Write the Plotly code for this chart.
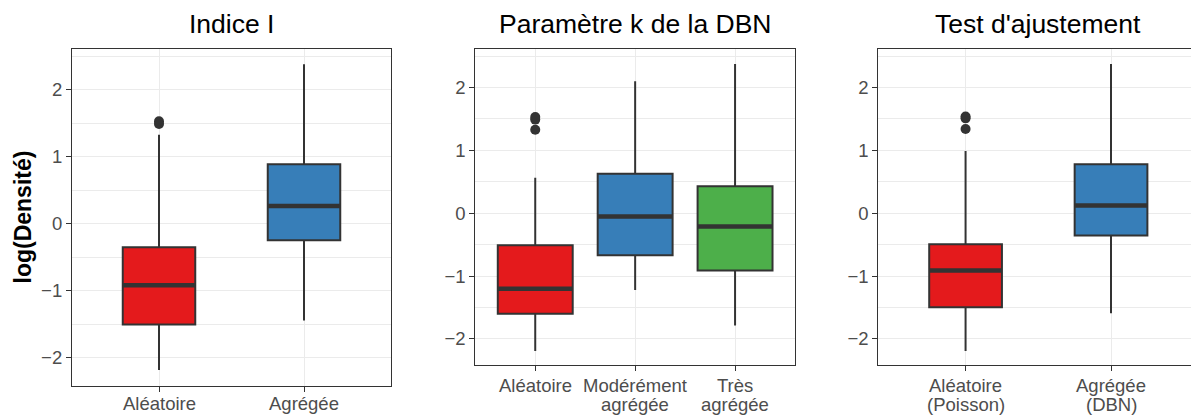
import plotly.graph_objects as go

W, H = 1191, 416

# ---------------- data ----------------
titles = ["Indice I", "Paramètre k de la DBN", "Test d'ajustement"]
y_title = "log(Densité)"

cats_indice = ["Aléatoire", "Agrégée"]
low_indice = [-2.18, -1.44]
q1_indice = [-1.50, -0.245]
med_indice = [-0.915, 0.265]
q3_indice = [-0.35, 0.89]
high_indice = [1.33, 2.38]
out_indice = [[1.49, 1.53], []]

cats_k = ["Aléatoire", "Modérément\nagrégée", "Très\nagrégée"]
low_k = [-2.19, -1.22, -1.785]
q1_k = [-1.60, -0.667, -0.91]
med_k = [-1.20, -0.053, -0.212]
q3_k = [-0.508, 0.629, 0.429]
high_k = [0.565, 2.10, 2.375]
out_k = [[1.33, 1.49, 1.53], [], []]

cats_test = ["Aléatoire\n(Poisson)", "Agrégée\n(DBN)"]
low_test = [-2.19, -1.59]
q1_test = [-1.497, -0.355]
med_test = [-0.91, 0.122]
q3_test = [-0.492, 0.778]
high_test = [0.99, 2.375]
out_test = [[1.34, 1.51, 1.54], []]

y_ticks = [-2, -1, 0, 1, 2]

# ---------------- style ----------------
RED, BLUE, GREEN = "#E41A1C", "#377EB8", "#4DAF4A"
DARK = "#333333"
GRID = "#EBEBEB"
TICK_TXT = "#4D4D4D"
FONT = "Liberation Sans, Arial, Helvetica, sans-serif"
TICK_SIZE = 18.5
TITLE_SIZE = 26.5

panels = [
    dict(title=titles[0], cats=cats_indice, low=low_indice, q1=q1_indice, med=med_indice,
         q3=q3_indice, high=high_indice, out=out_indice, colors=[RED, BLUE], bw=0.5,
         box=(72, 391, 49, 386), label_top=391.3),
    dict(title=titles[1], cats=cats_k, low=low_k, q1=q1_k, med=med_k,
         q3=q3_k, high=high_k, out=out_k, colors=[RED, BLUE, GREEN], bw=0.75,
         box=(475.3, 795, 49.3, 365.3), label_top=373.0),
    dict(title=titles[2], cats=cats_test, low=low_test, q1=q1_test, med=med_test,
         q3=q3_test, high=high_test, out=out_test, colors=[RED, BLUE], bw=0.5,
         box=(878.3, 1198.3, 49.3, 365.3), label_top=373.0),
]

# shared y range: data extent expanded by 5 % on each side
all_vals = []
for p in panels:
    all_vals += p["low"] + p["high"] + [v for o in p["out"] for v in o]
ymin, ymax = min(all_vals), max(all_vals)
pad = 0.05 * (ymax - ymin)
y_range = [ymin - pad, ymax + pad]

LINE_STEP = 18.7  # px between stacked label lines

fig = go.Figure()
annotations = []
layout = {}

for i, p in enumerate(panels, start=1):
    xa, ya = f"x{i}" if i > 1 else "x", f"y{i}" if i > 1 else "y"
    left, right, top, bottom = p["box"]
    n = len(p["cats"])
    pos = list(range(1, n + 1))
    lo_x, hi_x = 0.4, n + 0.6
    px_per_unit = (right - left) / (hi_x - lo_x)
    # the last panel runs past the page edge and is clipped there
    right_vis = min(right, W)
    hi_vis = lo_x + (right_vis - left) / px_per_unit

    for j in range(n):
        fig.add_trace(go.Box(
            x=[pos[j]], q1=[p["q1"][j]], median=[p["med"][j]], q3=[p["q3"][j]],
            lowerfence=[p["low"][j]], upperfence=[p["high"][j]],
            width=p["bw"], whiskerwidth=0, boxpoints=False,
            fillcolor=p["colors"][j], line=dict(color=DARK, width=2),
            xaxis=xa, yaxis=ya, showlegend=False, hoverinfo="skip"))
        # thick median bar
        fig.add_trace(go.Scatter(
            x=[pos[j] - p["bw"] / 2, pos[j] + p["bw"] / 2], y=[p["med"][j]] * 2,
            mode="lines", line=dict(color=DARK, width=4.5),
            xaxis=xa, yaxis=ya, showlegend=False, hoverinfo="skip"))
        if p["out"][j]:
            fig.add_trace(go.Scatter(
                x=[pos[j]] * len(p["out"][j]), y=p["out"][j], mode="markers",
                marker=dict(color=DARK, size=10),
                xaxis=xa, yaxis=ya, showlegend=False, hoverinfo="skip"))

    xkey = "xaxis" if i == 1 else f"xaxis{i}"
    ykey = "yaxis" if i == 1 else f"yaxis{i}"
    layout[xkey] = dict(
        domain=[left / W, right_vis / W], anchor=ya, range=[lo_x, hi_vis],
        tickvals=pos, showticklabels=False, ticks="outside", ticklen=5,
        tickcolor=DARK, tickwidth=1.2, showgrid=True, gridcolor=GRID, gridwidth=1.4,
        zeroline=False, showline=True, mirror=True, linecolor=DARK, linewidth=1.2,
        fixedrange=True)
    layout[ykey] = dict(
        domain=[1 - bottom / H, 1 - top / H], anchor=xa, range=y_range,
        tickvals=y_ticks, ticks="outside", ticklen=5, tickcolor=DARK, tickwidth=1.2,
        tickfont=dict(family=FONT, size=TICK_SIZE, color=TICK_TXT),
        showgrid=True, gridcolor=GRID, gridwidth=1.4,
        minor=dict(dtick=0.5, tick0=0, showgrid=True, gridcolor=GRID, gridwidth=0.9),
        zeroline=False, showline=True, mirror=(right <= W), linecolor=DARK,
        linewidth=1.2, fixedrange=True)

    # panel title
    annotations.append(dict(
        text=p["title"], xref=xa, x=(lo_x + hi_x) / 2, yref="paper", y=1 - 7.3 / H,
        xanchor="center", yanchor="top", showarrow=False,
        font=dict(family=FONT, size=TITLE_SIZE, color="black")))

    # category labels, one annotation per text line
    for j, cat in enumerate(p["cats"]):
        for k, line in enumerate(cat.split("\n")):
            annotations.append(dict(
                text=line, xref=xa, x=pos[j], yref="paper",
                y=1 - (p["label_top"] + k * LINE_STEP) / H,
                xanchor="center", yanchor="top", showarrow=False,
                font=dict(family=FONT, size=TICK_SIZE, color=TICK_TXT)))

# shared y-axis title
annotations.append(dict(
    text=y_title, xref="paper", x=22 / W, yref="paper", y=1 - 217.5 / H,
    xanchor="center", yanchor="middle", textangle=-90, showarrow=False,
    font=dict(family=FONT, size=23, color="black", weight="bold")))

fig.update_layout(
    width=W, height=H, margin=dict(l=0, r=0, t=0, b=0),
    paper_bgcolor="white", plot_bgcolor="white",
    showlegend=False, annotations=annotations, **layout)

fig.write_html("out.html", config={"displayModeBar": False})
